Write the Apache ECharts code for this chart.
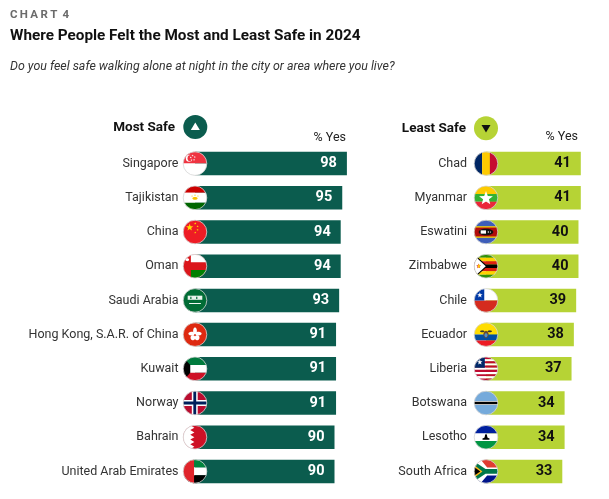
<!DOCTYPE html>
<html>
<head>
<meta charset="utf-8">
<script src="https://cdn.jsdelivr.net/npm/echarts@6/dist/echarts.min.js"></script>
<style>
  html, body { margin: 0; padding: 0; background: #fff; }
  #chart { width: 609px; height: 499px; }
</style>
</head>
<body>
<div id="chart"></div>
<script>
// data
var mostNames = ['Singapore', 'Tajikistan', 'China', 'Oman', 'Saudi Arabia',
    'Hong Kong, S.A.R. of China', 'Kuwait', 'Norway', 'Bahrain', 'United Arab Emirates'];
var mostValues = [98, 95, 94, 94, 93, 91, 91, 91, 90, 90];
var leastNames = ['Chad', 'Myanmar', 'Eswatini', 'Zimbabwe', 'Chile',
    'Ecuador', 'Liberia', 'Botswana', 'Lesotho', 'South Africa'];
var leastValues = [41, 41, 40, 40, 39, 38, 37, 34, 34, 33];

var darkGreen = '#0b5c4e';
var lightGreen = '#b6d335';
var R = 11.8;
var font = 'Roboto';

// flag helpers, unit coords (-1..1), clipped to circle
function rect(x0, y0, x1, y1, c) { return {p: [[x0, y0], [x1, y0], [x1, y1], [x0, y1]], c: c}; }
function poly(pts, c) { return {p: pts, c: c}; }
function dot(x, y, r, c) { return {o: [x, y, r], c: c}; }
function star(x, y, r, c) {
    var pts = [];
    for (var k = 0; k < 10; k++) {
        var a = -Math.PI / 2 + k * Math.PI / 5;
        var rr = k % 2 ? r * 0.42 : r;
        pts.push([x + rr * Math.cos(a), y + rr * Math.sin(a)]);
    }
    return {p: pts, c: c};
}
function ellipse(x, y, rx, ry, c) {
    var pts = [];
    for (var k = 0; k < 28; k++) {
        var a = k / 28 * Math.PI * 2;
        pts.push([x + rx * Math.cos(a), y + ry * Math.sin(a)]);
    }
    return {p: pts, c: c};
}
function stripes(colors) {
    var out = [], h = 2 / colors.length;
    for (var i = 0; i < colors.length; i++) {
        out.push(rect(-1, -1 + i * h, 1, -1 + (i + 1) * h, colors[i]));
    }
    return out;
}

var UNIT = [];
for (var k = 0; k < 56; k++) {
    var a = k / 56 * Math.PI * 2;
    UNIT.push([Math.cos(a), Math.sin(a)]);
}
function clip(subject, clipPoly) {
    var output = subject;
    for (var i = 0; i < clipPoly.length; i++) {
        var A = clipPoly[i], B = clipPoly[(i + 1) % clipPoly.length];
        var input = output;
        output = [];
        if (!input.length) break;
        for (var j = 0; j < input.length; j++) {
            var P = input[j], Q = input[(j + 1) % input.length];
            var pin = (B[0] - A[0]) * (P[1] - A[1]) - (B[1] - A[1]) * (P[0] - A[0]) >= 0;
            var qin = (B[0] - A[0]) * (Q[1] - A[1]) - (B[1] - A[1]) * (Q[0] - A[0]) >= 0;
            if (pin) {
                output.push(P);
                if (!qin) output.push(cross(P, Q, A, B));
            } else if (qin) {
                output.push(cross(P, Q, A, B));
            }
        }
    }
    return output;
}
function cross(P, Q, A, B) {
    var d1x = Q[0] - P[0], d1y = Q[1] - P[1];
    var d2x = B[0] - A[0], d2y = B[1] - A[1];
    var den = d1x * d2y - d1y * d2x;
    var t = ((A[0] - P[0]) * d2y - (A[1] - P[1]) * d2x) / den;
    return [P[0] + t * d1x, P[1] + t * d1y];
}

var FLAGS = {
    'Singapore': [rect(-1, -1, 1, 0, '#ef3340'), rect(-1, 0, 1, 1, '#ffffff'),
        dot(-0.48, -0.45, 0.3, '#ffffff'), dot(-0.36, -0.45, 0.27, '#ef3340'),
        star(-0.2, -0.68, 0.09, '#fff'), star(-0.02, -0.55, 0.09, '#fff'), star(-0.08, -0.32, 0.09, '#fff'),
        star(-0.3, -0.3, 0.09, '#fff'), star(-0.36, -0.52, 0.09, '#fff')],
    'Tajikistan': [rect(-1, -1, 1, -0.43, '#cc0000'), rect(-1, -0.43, 1, 0.43, '#ffffff'),
        rect(-1, 0.43, 1, 1, '#006600'), ellipse(0, 0.05, 0.22, 0.12, '#f8c300'),
        dot(-0.25, -0.15, 0.05, '#f8c300'), dot(0, -0.22, 0.05, '#f8c300'), dot(0.25, -0.15, 0.05, '#f8c300')],
    'China': [rect(-1, -1, 1, 1, '#ee1c25'), star(-0.45, -0.38, 0.32, '#ffde00'),
        star(0.02, -0.72, 0.1, '#ffde00'), star(0.22, -0.48, 0.1, '#ffde00'),
        star(0.22, -0.18, 0.1, '#ffde00'), star(0.02, 0.05, 0.1, '#ffde00')],
    'Oman': [rect(-1, -1, 1, 1, '#db161b'), rect(-0.35, -1, 1, -0.33, '#ffffff'),
        rect(-0.35, 0.33, 1, 1, '#008000'), ellipse(-0.65, -0.55, 0.15, 0.12, '#ffffff')],
    'Saudi Arabia': [rect(-1, -1, 1, 1, '#006c35'), rect(-0.62, -0.4, 0.62, -0.05, '#e8f2ec'),
        rect(-0.4, -0.3, -0.3, -0.12, '#006c35'), rect(0.1, -0.3, 0.2, -0.12, '#006c35'),
        rect(-0.5, 0.22, 0.5, 0.3, '#ffffff')],
    'Hong Kong, S.A.R. of China': [rect(-1, -1, 1, 1, '#de2910'),
        ellipse(0, -0.3, 0.16, 0.3, '#fff'), ellipse(0.28, -0.08, 0.28, 0.16, '#fff'),
        ellipse(0.18, 0.26, 0.2, 0.22, '#fff'), ellipse(-0.18, 0.26, 0.2, 0.22, '#fff'),
        ellipse(-0.28, -0.08, 0.28, 0.16, '#fff'), dot(0, 0, 0.06, '#de2910')],
    'Kuwait': [rect(-1, -1, 1, -0.33, '#007a3d'), rect(-1, -0.33, 1, 0.33, '#ffffff'),
        rect(-1, 0.33, 1, 1, '#ce1126'), poly([[-1.2, -1.2], [-0.4, -0.33], [-0.4, 0.33], [-1.2, 1.2]], '#000000')],
    'Norway': [rect(-1, -1, 1, 1, '#ba0c2f'), rect(-0.27, -1, 0.23, 1, '#ffffff'),
        rect(-1, -0.25, 1, 0.25, '#ffffff'), rect(-0.14, -1, 0.1, 1, '#00205b'),
        rect(-1, -0.12, 1, 0.12, '#00205b')],
    'Bahrain': [rect(-1, -1, 1, 1, '#ce1126'), poly([[-1, -1], [-0.4, -1], [-0.05, -0.8], [-0.4, -0.6],
        [-0.05, -0.4], [-0.4, -0.2], [-0.05, 0], [-0.4, 0.2], [-0.05, 0.4], [-0.4, 0.6],
        [-0.05, 0.8], [-0.4, 1], [-1, 1]], '#ffffff')],
    'United Arab Emirates': [rect(-1, -1, 1, -0.33, '#00843d'), rect(-1, -0.33, 1, 0.33, '#ffffff'),
        rect(-1, 0.33, 1, 1, '#000000'), rect(-1, -1, -0.08, 1, '#e0242b')],
    'Chad': [rect(-1, -1, -0.33, 1, '#002664'), rect(-0.33, -1, 0.33, 1, '#fecb00'), rect(0.33, -1, 1, 1, '#c60c30')],
    'Myanmar': [rect(-1, -1, 1, -0.33, '#fecb00'), rect(-1, -0.33, 1, 0.33, '#34b233'),
        rect(-1, 0.33, 1, 1, '#ea2839'), star(0, 0.05, 0.62, '#ffffff')],
    'Eswatini': [rect(-1, -1, 1, 1, '#3e5eb9'), rect(-1, -0.48, 1, 0.48, '#ffd900'),
        rect(-1, -0.38, 1, 0.38, '#b10c0c'), ellipse(0, 0, 0.62, 0.28, '#111111'),
        poly([[-0.45, -0.14], [0, -0.14], [0, 0.14], [-0.45, 0.14]], '#ffffff'),
        dot(0.2, 0, 0.06, '#ffffff'), dot(0.38, 0, 0.05, '#ffffff')],
    'Zimbabwe': stripes(['#319208', '#ffd200', '#de2010', '#000000', '#de2010', '#ffd200', '#319208']).concat([
        poly([[-1.3, -1.3], [0.12, 0], [-1.3, 1.3]], '#000000'),
        poly([[-1.3, -1.18], [-0.02, 0], [-1.3, 1.18]], '#ffffff'),
        star(-0.62, 0, 0.22, '#de2010'), ellipse(-0.6, 0, 0.08, 0.15, '#ffd200')]),
    'Chile': [rect(-1, -1, 1, 0, '#ffffff'), rect(-1, 0, 1, 1, '#d52b1e'),
        rect(-1, -1, -0.15, 0, '#0039a6'), star(-0.52, -0.45, 0.24, '#ffffff')],
    'Ecuador': [rect(-1, -1, 1, 0, '#ffdd00'), rect(-1, 0, 1, 0.5, '#034ea2'), rect(-1, 0.5, 1, 1, '#ed1c24'),
        ellipse(0, -0.02, 0.22, 0.3, '#6a4a2b'), ellipse(0, 0.05, 0.13, 0.17, '#4d8fcf'),
        ellipse(-0.32, -0.28, 0.18, 0.08, '#333333'), ellipse(0.32, -0.28, 0.18, 0.08, '#333333')],
    'Liberia': stripes(['#bf0a30', '#ffffff', '#bf0a30', '#ffffff', '#bf0a30', '#ffffff',
        '#bf0a30', '#ffffff', '#bf0a30', '#ffffff', '#bf0a30']).concat([
        rect(-1, -1, -0.1, -1 + 2 * 5 / 11, '#002868'), star(-0.52, -0.56, 0.24, '#ffffff')]),
    'Botswana': [rect(-1, -1, 1, 1, '#75aadb'), rect(-1, -0.16, 1, 0.16, '#ffffff'), rect(-1, -0.1, 1, 0.1, '#000000')],
    'Lesotho': [rect(-1, -1, 1, -0.32, '#00209f'), rect(-1, -0.32, 1, 0.32, '#ffffff'),
        rect(-1, 0.32, 1, 1, '#009543'), poly([[0, -0.3], [0.08, -0.18], [0.12, 0.02], [0.32, 0.14],
        [0.28, 0.22], [-0.28, 0.22], [-0.32, 0.14], [-0.12, 0.02], [-0.08, -0.18]], '#000000')],
    'South Africa': [rect(-1, -1, 1, 0, '#e03c31'), rect(-1, 0, 1, 1, '#001489'),
        poly([[-1.2, -1.2], [-0.62, -1.2], [0.1, -0.34], [1.2, -0.34], [1.2, 0.34], [0.1, 0.34],
            [-0.62, 1.2], [-1.2, 1.2]], '#ffffff'),
        poly([[-1.2, -0.98], [-0.04, -0.2], [1.2, -0.2], [1.2, 0.2], [-0.04, 0.2], [-1.2, 0.98]], '#007749'),
        poly([[-1.2, -0.68], [-0.3, 0], [-1.2, 0.68]], '#ffb81c'),
        poly([[-1.2, -0.52], [-0.48, 0], [-1.2, 0.52]], '#000000')]
};

function flagRenderer(names) {
    return function (params, api) {
        var c = api.coord([0, api.value(1)]);
        var shapes = FLAGS[names[params.dataIndex]] || [];
        var children = [];
        shapes.forEach(function (s) {
            if (s.o) {
                children.push({type: 'circle', shape: {cx: c[0] + s.o[0] * R, cy: c[1] + s.o[1] * R, r: s.o[2] * R},
                    style: {fill: s.c}});
            } else {
                var pts = clip(s.p, UNIT);
                if (pts.length > 2) {
                    children.push({type: 'polygon', shape: {points: pts.map(function (q) {
                        return [c[0] + q[0] * R, c[1] + q[1] * R];
                    })}, style: {fill: s.c}});
                }
            }
        });
        children.push({type: 'circle', shape: {cx: c[0], cy: c[1], r: R},
            style: {fill: 'none', stroke: '#d6d6d6', lineWidth: 0.8}});
        return {type: 'group', children: children};
    };
}

function catAxis(idx, names, margin) {
    return {
        type: 'category', gridIndex: idx, data: names, inverse: true,
        axisLine: {show: false}, axisTick: {show: false}, splitLine: {show: false},
        axisLabel: {margin: margin, fontFamily: font, fontSize: 12.5, color: '#333333'}
    };
}

var myChart = echarts.init(document.getElementById('chart'), null, {renderer: 'canvas'});
myChart.setOption({
    animation: false,
    grid: [
        {left: 195, top: 146.5, width: 155, height: 342},
        {left: 486, top: 146.5, width: 115.6, height: 342}
    ],
    xAxis: [
        {type: 'value', gridIndex: 0, min: 0, max: 100, show: false},
        {type: 'value', gridIndex: 1, min: 0, max: 50, show: false}
    ],
    yAxis: [catAxis(0, mostNames, 16.5), catAxis(1, leastNames, 19)],
    graphic: [
        {type: 'text', left: 10, top: 9, style: {text: 'C\u2009H\u2009A\u2009R\u2009T\u2009 4', fill: '#6b6b6b',
            font: 'bold 11.5px Roboto'}},
        {type: 'text', left: 10, top: 29, style: {text: 'Where People Felt the Most and Least Safe in 2024',
            fill: '#111111', font: 'bold 15.3px Roboto'}},
        {type: 'text', left: 10, top: 60.5, style: {text: 'Do you feel safe walking alone at night in the city or area where you live?',
            fill: '#333333', font: 'italic 12.4px Roboto'}},
        {type: 'text', x: 175, y: 127.3, style: {text: 'Most Safe', fill: '#111111', font: 'bold 13.5px Roboto',
            align: 'right', verticalAlign: 'middle'}},
        {type: 'circle', shape: {cx: 195.3, cy: 127, r: 12}, style: {fill: darkGreen}},
        {type: 'polygon', shape: {points: [[195.3, 122.5], [199.8, 130], [190.8, 130]]}, style: {fill: '#ffffff'}},
        {type: 'text', x: 346, y: 137.5, style: {text: '% Yes', fill: '#222222', font: '12.5px Roboto',
            align: 'right', verticalAlign: 'middle'}},
        {type: 'text', x: 466, y: 128.3, style: {text: 'Least Safe', fill: '#111111', font: 'bold 13.5px Roboto',
            align: 'right', verticalAlign: 'middle'}},
        {type: 'circle', shape: {cx: 486, cy: 128.3, r: 12}, style: {fill: lightGreen}},
        {type: 'polygon', shape: {points: [[481.5, 125], [490.5, 125], [486, 132.5]]}, style: {fill: '#111111'}},
        {type: 'text', x: 578, y: 137, style: {text: '% Yes', fill: '#222222', font: '12.5px Roboto',
            align: 'right', verticalAlign: 'middle'}}
    ],
    series: [
        {
            type: 'bar', xAxisIndex: 0, yAxisIndex: 0, data: mostValues, barWidth: 23.5,
            itemStyle: {color: darkGreen},
            label: {show: true, position: 'insideRight', distance: 10, color: '#ffffff',
                fontFamily: font, fontWeight: 'bold', fontSize: 14.5}
        },
        {
            type: 'bar', xAxisIndex: 1, yAxisIndex: 1, data: leastValues, barWidth: 23.5,
            itemStyle: {color: lightGreen},
            label: {show: true, position: 'insideRight', distance: 10, color: '#111111',
                fontFamily: font, fontWeight: 'bold', fontSize: 14.5}
        },
        {
            type: 'custom', xAxisIndex: 0, yAxisIndex: 0, z: 5, silent: true,
            data: mostNames.map(function (n, i) { return [0, i]; }),
            renderItem: flagRenderer(mostNames)
        },
        {
            type: 'custom', xAxisIndex: 1, yAxisIndex: 1, z: 5, silent: true,
            data: leastNames.map(function (n, i) { return [0, i]; }),
            renderItem: flagRenderer(leastNames)
        }
    ]
});
</script>
</body>
</html>
